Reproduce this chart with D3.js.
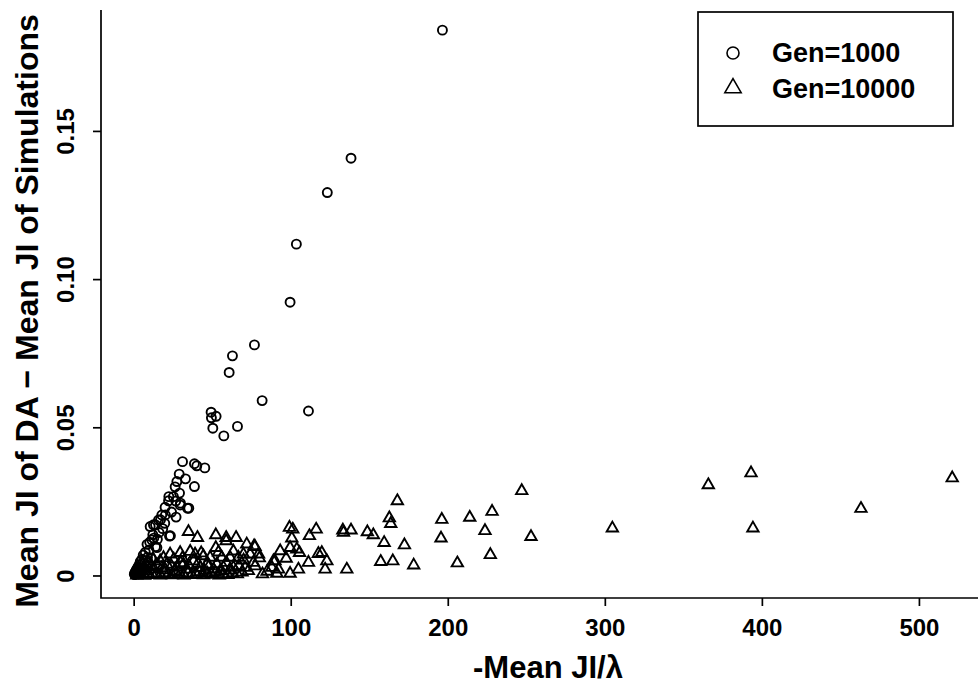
<!DOCTYPE html>
<html>
<head>
<meta charset="utf-8">
<script src="https://d3js.org/d3.v7.min.js"></script>
<style>
  body { margin: 0; background: #fff; }
  svg text { font-family: "Liberation Sans", Arial, sans-serif; font-weight: bold; fill: #000; }
</style>
</head>
<body>
<div id="chart"></div>
<script>
// Gen=1000 points: [-Mean JI/lambda, Mean JI of DA - Mean JI of simulations]
const gen1000 = [
  [196.6, 0.184], [138.4, 0.1408], [123.3, 0.1292], [103.6, 0.1118], [99.6, 0.0922],
  [76.9, 0.0778], [62.9, 0.0741], [60.8, 0.0685], [81.8, 0.059], [111.3, 0.0555],
  [49.3, 0.0551], [52.5, 0.0537], [49.5, 0.0532], [50.4, 0.0497], [66.1, 0.0503], [57.4, 0.0471],
  [31.1, 0.0384], [38.7, 0.0377], [40.2, 0.037], [45.3, 0.0363], [29, 0.0342], [33, 0.0326],
  [27.5, 0.0317], [38.7, 0.03], [26.4, 0.0299], [29.2, 0.0278], [25.3, 0.0266], [22.4, 0.0266],
  [22.2, 0.0252], [29.8, 0.0244], [29.6, 0.0238], [35.1, 0.0227], [34.2, 0.0227], [20, 0.023],
  [27, 0.0197], [20.2, 0.0204], [17.9, 0.0204], [17.1, 0.0188], [15.8, 0.0187], [13.9, 0.0171],
  [12.6, 0.0171], [10.5, 0.0165], [22.8, 0.0133], [23.4, 0.0134], [12.2, 0.0137], [12.8, 0.0126],
  [11.6, 0.012], [14.8, 0.0094], [13.9, 0.0097], [9.7, 0.0086],
  [8.5, 0.0105], [10.2, 0.0112], [7.4, 0.0078], [6.1, 0.0069], [8.8, 0.0061], [5.3, 0.0055],
  [4.2, 0.0047], [6.9, 0.0041], [3.5, 0.0036], [2.8, 0.0029], [5.6, 0.0027], [2.1, 0.0022],
  [1.6, 0.0017], [3.9, 0.0015], [1.1, 0.0012], [0.7, 0.0008], [2.4, 0.0009], [0.4, 0.0004],
  [1.8, 0.0005], [3.1, 0.0006], [0.9, 0.0003], [5.0, 0.0012], [7.8, 0.0031], [11.0, 0.0058],
  [9.3, 0.0044], [4.6, 0.0021], [16.2, 0.0145], [18.5, 0.0158], [15.1, 0.0122], [19.8, 0.0176],
  [24.1, 0.0214], [26.8, 0.0251]
];

// Gen=10000 points
const gen10000 = [
  [304.8, 0.0163], [365.9, 0.0309], [393.1, 0.0349], [394.3, 0.0163], [463.1, 0.0229], [521.2, 0.0332],
  [247.1, 0.0289], [253, 0.0134], [228.2, 0.0219], [223.7, 0.0154], [227.1, 0.0073], [214, 0.0199],
  [206.1, 0.0045], [196.2, 0.0192], [195.7, 0.0129], [178.3, 0.0038], [172.4, 0.0106], [167.9, 0.0255],
  [162.8, 0.0197], [163.7, 0.0178], [159.5, 0.0114], [157.3, 0.005], [165, 0.0052], [148.8, 0.015],
  [152.6, 0.014], [133.2, 0.0156], [133.6, 0.0148], [138.4, 0.0156], [135.7, 0.0024], [117.6, 0.0077],
  [119.8, 0.008], [123, 0.0052], [121.9, 0.0024], [116.2, 0.0159], [111.9, 0.0137], [111.3, 0.0047],
  [99.2, 0.0165], [101.3, 0.0159], [100.7, 0.0129], [99.6, 0.0097], [103.9, 0.0092], [105.6, 0.008],
  [93.3, 0.0086], [97.1, 0.0061], [89, 0.0052], [88, 0.003], [91.2, 0.001], [99.6, 0.001], [104.9, 0.0024],
  [77.3, 0.01], [79.5, 0.0075], [77.3, 0.0035], [34.9, 0.0151], [40.6, 0.0131], [52.3, 0.014],
  [58.9, 0.0131], [65.2, 0.0131], [52.3, 0.0097], [58.9, 0.012], [72, 0.0109], [76.7, 0.0103],
  [74.2, 0.0075], [69.9, 0.0075], [66.7, 0.0064], [76.3, 0.0047], [71, 0.003], [23.2, 0.0075],
  [29.6, 0.008], [36, 0.0084], [39.1, 0.0075], [44.4, 0.0069], [48.7, 0.0064], [56.1, 0.0064],
  [61.4, 0.0064], [63.5, 0.003], [57.2, 0.003], [50.8, 0.0024], [42.3, 0.003], [33.9, 0.0024],
  [27.5, 0.003], [21.1, 0.0041], [16.9, 0.0052], [90, 0.0052], [92.2, 0.0024], [38.1, 0.0052],
  [46.6, 0.0041], [31.7, 0.0041],
  [2, 0.0004], [4.5, 0.0008], [7, 0.0003], [9.5, 0.0011], [12, 0.0006], [14.5, 0.0009], [17, 0.0004],
  [19.5, 0.0012], [22, 0.0007], [24.5, 0.0005], [27, 0.0013], [29.5, 0.0008], [32, 0.0004], [34.5, 0.0011],
  [37, 0.0006], [39.5, 0.0009], [42, 0.0015], [44.5, 0.0005], [47, 0.001], [49.5, 0.0007], [52, 0.0013],
  [54.5, 0.0004], [57, 0.0009], [60, 0.0006], [63, 0.0012], [66, 0.0008], [69, 0.0014], [3, 0.0021],
  [6, 0.0028], [8, 0.0019], [11, 0.0033], [13, 0.0025], [15, 0.0038], [18, 0.0029], [20, 0.0022],
  [24, 0.0035], [26, 0.0019], [30, 0.0046], [35, 0.0038], [41, 0.0044], [45, 0.002], [48, 0.0035],
  [53, 0.0042], [55, 0.0018], [59, 0.0047], [61, 0.0021], [67, 0.0036], [70, 0.0055], [73, 0.0019],
  [5, 0.0045], [9, 0.0052], [12.5, 0.0058], [19, 0.0063], [25.5, 0.0058], [31, 0.0062], [43, 0.0079],
  [54, 0.0082], [63.5, 0.0085], [82, 0.0008], [85, 0.0017], [80, 0.0062]
];

const xTicks = [0, 100, 200, 300, 400, 500];
const yTicks = [0, 0.05, 0.10, 0.15];
const yTickLabels = ['0', '0.05', '0.10', '0.15'];
const legendLabels = ['Gen=1000', 'Gen=10000'];

const W = 978, H = 691;
const plot = { left: 101, right: 983, top: 10, bottom: 598 };

const svg = d3.select('#chart').append('svg')
  .attr('width', W)
  .attr('height', H);

const x = d3.scaleLinear().domain([-20.8, 540.8]).range([plot.left, plot.right]);
const y = d3.scaleLinear().domain([-0.0076, 0.1908]).range([plot.bottom, plot.top]);

// L-shaped box (R bty="l")
svg.append('path')
  .attr('d', `M${plot.left},${plot.top}V${plot.bottom}H${W}`)
  .attr('fill', 'none')
  .attr('stroke', '#000')
  .attr('stroke-width', 1.7);

// axes
const xAxis = svg.append('g')
  .attr('transform', `translate(0,${plot.bottom})`)
  .call(d3.axisBottom(x).tickValues(xTicks).tickSize(8).tickPadding(13).tickFormat(d3.format('d')));
xAxis.select('.domain').remove();
xAxis.selectAll('line').attr('stroke-width', 1.7);
xAxis.selectAll('text')
  .attr('font-size', 24)
  .attr('font-family', null)
  .attr('dy', '0.71em');

const yAxis = svg.append('g')
  .attr('transform', `translate(${plot.left},0)`)
  .call(d3.axisLeft(y).tickValues(yTicks).tickSize(8).tickFormat((d, i) => yTickLabels[i]));
yAxis.select('.domain').remove();
yAxis.selectAll('line').attr('stroke-width', 1.7);
yAxis.selectAll('text')
  .attr('font-size', 24)
  .attr('font-family', null)
  .attr('x', null)
  .attr('dy', null)
  .attr('text-anchor', 'middle')
  .attr('transform', 'translate(-27,0) rotate(-90)');

// points
const symTri = d3.symbol().type(d3.symbolTriangle).size(56);

svg.append('g').selectAll('path')
  .data(gen10000)
  .join('path')
  .attr('d', symTri)
  .attr('transform', d => `translate(${x(d[0])},${y(d[1]) + 1})`)
  .attr('fill', 'none')
  .attr('stroke', '#000')
  .attr('stroke-width', 1.9);

svg.append('g').selectAll('circle')
  .data(gen1000)
  .join('circle')
  .attr('cx', d => x(d[0]))
  .attr('cy', d => y(d[1]))
  .attr('r', 4.5)
  .attr('fill', 'none')
  .attr('stroke', '#000')
  .attr('stroke-width', 1.9);

// axis titles
svg.append('text')
  .attr('x', (plot.left + plot.right) / 2 + 6)
  .attr('y', 678)
  .attr('text-anchor', 'middle')
  .attr('font-size', 31)
  .text('-Mean JI/\u03bb');

svg.append('text')
  .attr('transform', `translate(38,311) rotate(-90)`)
  .attr('text-anchor', 'middle')
  .attr('font-size', 32)
  .text('Mean JI of DA \u2212 Mean JI of Simulations');

// legend
const legend = svg.append('g').attr('transform', 'translate(698,12)');
legend.append('rect')
  .attr('width', 255)
  .attr('height', 114)
  .attr('fill', '#fff')
  .attr('stroke', '#000')
  .attr('stroke-width', 1.7);

legend.append('circle')
  .attr('cx', 35).attr('cy', 41).attr('r', 6)
  .attr('fill', 'none').attr('stroke', '#000').attr('stroke-width', 1.6);
legend.append('path')
  .attr('d', d3.symbol().type(d3.symbolTriangle).size(115))
  .attr('transform', 'translate(35,76)')
  .attr('fill', 'none').attr('stroke', '#000').attr('stroke-width', 1.6);

legend.selectAll('text.lab')
  .data(legendLabels)
  .join('text')
  .attr('class', 'lab')
  .attr('x', 74)
  .attr('y', (d, i) => 50 + i * 36)
  .attr('font-size', 27)
  .text(d => d);
</script>
</body>
</html>
